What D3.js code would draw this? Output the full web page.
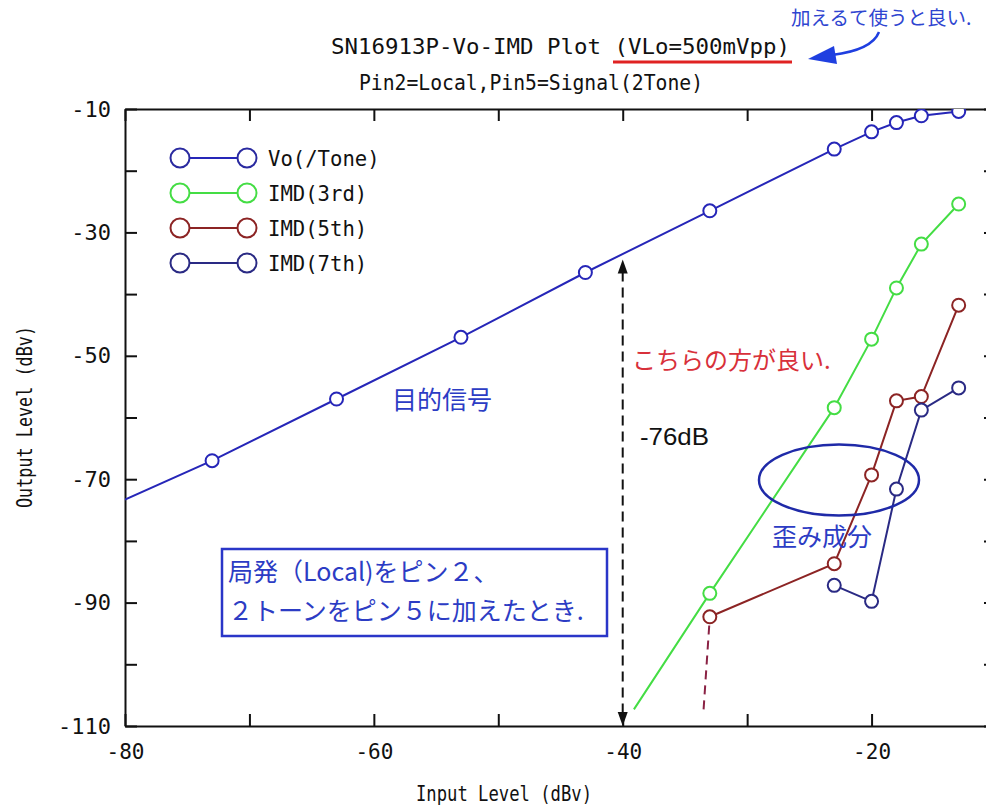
<!DOCTYPE html>
<html><head><meta charset="utf-8">
<script src="https://cdn.jsdelivr.net/npm/d3@7"></script>
<style>
html,body{margin:0;padding:0;background:#fff;}
svg{display:block;}
</style></head>
<body>
<script>
// ---- data ----
const xTicks = [-80,-70,-60,-50,-40,-30,-20,-10];
const xTickLabels = [-80,-60,-40,-20];
const yTicks = [-110,-100,-90,-80,-70,-60,-50,-40,-30,-20,-10];
const yTickLabels = [-110,-90,-70,-50,-30,-10];

const voInput  = [-73,-63,-53,-43,-33,-23,-20,-18,-16,-13];
const voOutput = [-67,-57,-47,-36.5,-26.5,-16.5,-13.7,-12.2,-11.1,-10.4];
const voLeadIn = [-80,-73.3];           // line continues to the left axis

const imd3Input  = [-33,-23,-20,-18,-16,-13];
const imd3Output = [-88.5,-58.4,-47.3,-39,-31.9,-25.4];
const imd3LeadIn = [-39.1,-107.3];

const imd5Input  = [-33,-23,-20,-18,-16,-13];
const imd5Output = [-92.3,-83.7,-69.3,-57.3,-56.6,-41.8];
const imd5LeadIn = [-33.5,-107.3];      // dashed extension

const imd7Input  = [-23,-20,-18,-16,-13];
const imd7Output = [-87.2,-89.8,-71.6,-58.8,-55.2];

const seriesNames = ["Vo(/Tone)","IMD(3rd)","IMD(5th)","IMD(7th)"];
const seriesColors = ["#2626b8","#44dd44","#8c2424","#2a2a84"];

const gapArrow = {x:-40, from:-34.4, to:-110, label:"-76dB"};

// ---- drawing ----
const W = 986, H = 805;
const svg = d3.select("body").append("svg").attr("width",W).attr("height",H);
const x = d3.scaleLinear().domain([-80,-10]).range([125,996]);
const y = d3.scaleLinear().domain([-110,-10]).range([726,109]);
const mono = "'DejaVu Sans Mono', monospace";
const jp = "'Noto Sans CJK JP', sans-serif";
const blueText = "#2c3cc4";

svg.append("defs").append("clipPath").attr("id","plotclip")
  .append("rect").attr("x",x(-80)).attr("y",y(-10)).attr("width",x(-10)-x(-80)).attr("height",y(-110)-y(-10));

// titles
svg.append("text").attr("x",331).attr("y",54).attr("font-family",mono).attr("font-size",21)
  .attr("textLength",459).attr("lengthAdjust","spacingAndGlyphs").attr("fill","#111")
  .text("SN16913P-Vo-IMD Plot (VLo=500mVpp)");
svg.append("text").attr("x",359).attr("y",90).attr("font-family",mono).attr("font-size",21)
  .attr("textLength",344).attr("lengthAdjust","spacingAndGlyphs").attr("fill","#111")
  .text("Pin2=Local,Pin5=Signal(2Tone)");
svg.append("line").attr("x1",613).attr("x2",792).attr("y1",62).attr("y2",62)
  .attr("stroke","#e02222").attr("stroke-width",3);
svg.append("text").attr("x",791).attr("y",25).attr("font-family",jp).attr("font-size",19.5)
  .attr("fill","#2f45d0").text("加えるて使うと良い.");
svg.append("path").attr("d","M879,32 Q872,50 832,55").attr("fill","none")
  .attr("stroke","#1f3fe0").attr("stroke-width",2.5);
svg.append("path").attr("d","M808,59 L834,46 L837,64 Z").attr("fill","#1f3fe0");

// axes
function styleAxis(g){
  g.selectAll(".domain").attr("stroke","#111").attr("stroke-width",2);
  g.selectAll(".tick line").attr("stroke","#111").attr("stroke-width",2);
}
const gB = svg.append("g").attr("transform",`translate(0,${y(-110)})`)
  .call(d3.axisBottom(x).tickValues(xTicks).tickSizeInner(-12).tickSizeOuter(0).tickPadding(18)
    .tickFormat(d => xTickLabels.includes(d) ? String(d) : ""));
gB.selectAll("text").attr("font-family",mono).attr("font-size",21).attr("fill","#111");
styleAxis(gB);
const gL = svg.append("g").attr("transform",`translate(${x(-80)},0)`)
  .call(d3.axisLeft(y).tickValues(yTicks).tickSizeInner(-12).tickSizeOuter(0).tickPadding(14)
    .tickFormat(d => yTickLabels.includes(d) ? String(d) : ""));
gL.selectAll("text").attr("font-family",mono).attr("font-size",22).attr("fill","#111");
styleAxis(gL);
const gT = svg.append("g").attr("transform",`translate(0,${y(-10)})`)
  .call(d3.axisTop(x).tickValues(xTicks).tickSizeInner(-12).tickSizeOuter(0).tickFormat(() => ""));
styleAxis(gT);
const gR = svg.append("g").attr("transform",`translate(${x(-10)},0)`)
  .call(d3.axisRight(y).tickValues(yTicks).tickSizeInner(-12).tickSizeOuter(0).tickFormat(() => ""));
styleAxis(gR);

svg.append("text").attr("x",504).attr("y",801).attr("text-anchor","middle")
  .attr("font-family",mono).attr("font-size",22).attr("textLength",176).attr("lengthAdjust","spacingAndGlyphs")
  .attr("fill","#111").text("Input Level (dBv)");
svg.append("text").attr("transform","translate(32,417) rotate(-90)").attr("text-anchor","middle")
  .attr("font-family",mono).attr("font-size",21).attr("textLength",182).attr("lengthAdjust","spacingAndGlyphs")
  .attr("fill","#111").text("Output Level (dBv)");

// data
const plot = svg.append("g").attr("clip-path","url(#plotclip)");
const line = d3.line().x(d => x(d[0])).y(d => y(d[1]));
const zip = (a,b) => a.map((v,i) => [v,b[i]]);
const series = [
  {pts: zip(voInput,voOutput), lead:[voLeadIn], color:seriesColors[0]},
  {pts: zip(imd3Input,imd3Output), lead:[imd3LeadIn], color:seriesColors[1]},
  {pts: zip(imd5Input,imd5Output), lead:null, color:seriesColors[2]},
  {pts: zip(imd7Input,imd7Output), lead:null, color:seriesColors[3]}
];
// dashed extension of 5th
plot.append("path").datum([imd5LeadIn, [imd5Input[0], imd5Output[0]]]).attr("d",line)
  .attr("fill","none").attr("stroke","#8a2244").attr("stroke-width",2).attr("stroke-dasharray","9,6");
series.forEach(s => {
  const pts = s.lead ? s.lead.concat(s.pts) : s.pts;
  plot.append("path").datum(pts).attr("d",line).attr("fill","none")
    .attr("stroke",s.color).attr("stroke-width",2);
});
series.forEach(s => {
  plot.selectAll(null).data(s.pts).enter().append("circle")
    .attr("cx",d => x(d[0])).attr("cy",d => y(d[1])).attr("r",6.5)
    .attr("fill","#fff").attr("stroke",s.color).attr("stroke-width",2);
});

// legend
const leg = svg.append("g");
seriesNames.forEach((n,i) => {
  const cy = 158 + i*35;
  const c = i===0 ? "#2a2aa0" : seriesColors[i];
  leg.append("line").attr("x1",189).attr("x2",238).attr("y1",cy).attr("y2",cy)
    .attr("stroke",seriesColors[i]).attr("stroke-width",2);
  [180,247].forEach(cx => leg.append("circle").attr("cx",cx).attr("cy",cy).attr("r",9.5)
    .attr("fill","#fff").attr("stroke",c).attr("stroke-width",2));
  leg.append("text").attr("x",268).attr("y",cy+8).attr("font-family",mono).attr("font-size",22)
    .attr("textLength",n.length*12.4).attr("lengthAdjust","spacingAndGlyphs")
    .attr("fill","#111").text(n);
});

// -76 dB dashed arrow
svg.append("line").attr("x1",x(gapArrow.x)).attr("x2",x(gapArrow.x))
  .attr("y1",y(gapArrow.from)+12).attr("y2",y(gapArrow.to)-12)
  .attr("stroke","#111").attr("stroke-width",2).attr("stroke-dasharray","10,6");
const ax = x(gapArrow.x), ayTop = y(gapArrow.from), ayBot = y(gapArrow.to);
svg.append("path").attr("d",`M${ax},${ayTop} L${ax-5},${ayTop+14} L${ax+5},${ayTop+14} Z`).attr("fill","#111");
svg.append("path").attr("d",`M${ax},${ayBot} L${ax-5},${ayBot-14} L${ax+5},${ayBot-14} Z`).attr("fill","#111");
svg.append("text").attr("x",640).attr("y",445).attr("font-family","'Liberation Sans', Arial, sans-serif")
  .attr("font-size",24).attr("textLength",69).attr("lengthAdjust","spacingAndGlyphs")
  .attr("fill","#111").text(gapArrow.label);

// annotations
svg.append("text").attr("x",632).attr("y",369).attr("font-family",jp).attr("font-size",24)
  .attr("fill","#d8303a").text("こちらの方が良い.");
svg.append("text").attr("x",392).attr("y",409).attr("font-family",jp).attr("font-size",25)
  .attr("fill",blueText).text("目的信号");
svg.append("ellipse").attr("cx",839).attr("cy",480).attr("rx",80).attr("ry",35.5)
  .attr("fill","none").attr("stroke","#1f2aa8").attr("stroke-width",2.5);
svg.append("text").attr("x",772).attr("y",546).attr("font-family",jp).attr("font-size",25)
  .attr("fill",blueText).text("歪み成分");
svg.append("rect").attr("x",222).attr("y",549).attr("width",385).attr("height",87)
  .attr("fill","none").attr("stroke","#2a36c8").attr("stroke-width",2.5);
svg.append("text").attr("x",228).attr("y",581).attr("font-family",jp).attr("font-size",25)
  .attr("fill",blueText).text("局発（Local)をピン２、");
svg.append("text").attr("x",228).attr("y",620).attr("font-family",jp).attr("font-size",25)
  .attr("fill",blueText).text("２トーンをピン５に加えたとき.");
</script>
</body></html>
